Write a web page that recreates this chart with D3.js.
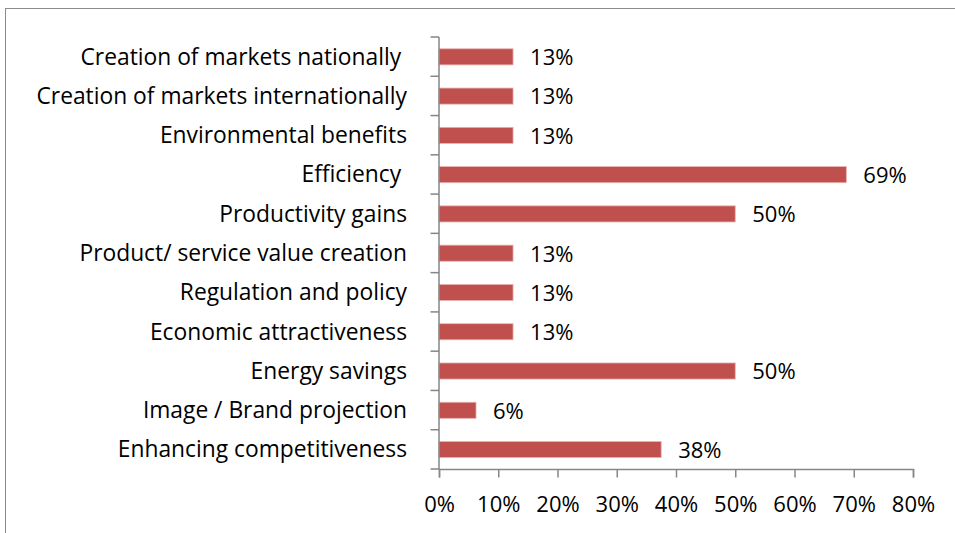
<!DOCTYPE html>
<html>
<head>
<meta charset="utf-8">
<script src="https://cdn.jsdelivr.net/npm/d3@7"></script>
<style>
  body { margin: 0; background: #fff; }
  text { font-family: "Open Sans", sans-serif; fill: #000; white-space: pre; }
</style>
</head>
<body>
<svg id="chart" width="955" height="533"></svg>
<script>
// Categories top to bottom
const categories = [
    "Creation of markets nationally ",
    "Creation of markets internationally",
    "Environmental benefits",
    "Efficiency ",
    "Productivity gains",
    "Product/ service value creation",
    "Regulation and policy",
    "Economic attractiveness",
    "Energy savings",
    "Image / Brand projection",
    "Enhancing competitiveness"
];
const values = [0.125, 0.125, 0.125, 0.6875, 0.5, 0.125, 0.125, 0.125, 0.5, 0.0625, 0.375];
const xTicks = [0, 0.1, 0.2, 0.3, 0.4, 0.5, 0.6, 0.7, 0.8];

const svg = d3.select("#chart");
const margin = { top: 37, left: 439, right: 42, bottom: 64 };
const width = 955, height = 533;
const labelSize = "22.8px";
const numSize = "22px";
const axisColor = "#868686";

// outer chart border (runs off the right/bottom edge)
svg.append("rect")
    .attr("x", 5.5).attr("y", 8.5)
    .attr("width", 1000).attr("height", 600)
    .attr("fill", "none").attr("stroke", "#8c8c8c").attr("stroke-width", 1);

const x = d3.scaleLinear().domain([0, 0.8]).range([margin.left, width - margin.right]);
const y = d3.scaleBand().domain(categories).range([margin.top, height - margin.bottom]);

// bars
svg.selectAll("rect.bar")
    .data(values)
    .enter()
    .append("rect")
    .attr("class", "bar")
    .attr("x", x(0))
    .attr("y", (d, i) => y(categories[i]) + y.bandwidth() * 0.3)
    .attr("width", d => x(d) - x(0))
    .attr("height", y.bandwidth() * 0.41)
    .attr("fill", "#C0504D")
    .attr("stroke", "#e8b4b2")
    .attr("stroke-width", 0.8);

// value labels
svg.selectAll("text.val")
    .data(values)
    .enter()
    .append("text")
    .attr("class", "val")
    .attr("x", d => x(d) + 17)
    .attr("y", (d, i) => y(categories[i]) + y.bandwidth() / 2 + 8.5)
    .style("font-size", numSize)
    .text(d => d3.format(".0%")(Math.round(d * 100) / 100));

// x axis
const xAxis = svg.append("g")
    .attr("transform", `translate(0,${height - margin.bottom})`)
    .call(d3.axisBottom(x).tickValues(xTicks).tickFormat(d3.format(".0%")).tickSizeOuter(0).tickSize(8.5));
xAxis.selectAll("line,path").attr("stroke", axisColor).attr("stroke-width", 1.5);
xAxis.selectAll("text")
    .attr("y", 43).attr("dy", null)
    .style("font-size", numSize)
    .style("font-family", "'Open Sans', sans-serif")
    .style("fill", "#000");

// y axis with ticks on category boundaries
const yAxis = svg.append("g").attr("transform", `translate(${margin.left},0)`);
yAxis.append("line")
    .attr("x1", 0).attr("x2", 0)
    .attr("y1", margin.top).attr("y2", height - margin.bottom)
    .attr("stroke", axisColor).attr("stroke-width", 1.5);
const bounds = categories.map(c => y(c)).concat([height - margin.bottom]);
yAxis.selectAll("line.tick")
    .data(bounds)
    .enter()
    .append("line")
    .attr("class", "tick")
    .attr("x1", -8.5).attr("x2", 0)
    .attr("y1", d => d).attr("y2", d => d)
    .attr("stroke", axisColor).attr("stroke-width", 1.5);

// category labels
svg.selectAll("text.cat")
    .data(categories)
    .enter()
    .append("text")
    .attr("class", "cat")
    .attr("x", 407)
    .attr("y", d => y(d) + y.bandwidth() / 2 + 8)
    .attr("text-anchor", "end")
    .style("font-size", labelSize)
    .text(d => d);
</script>
</body>
</html>
